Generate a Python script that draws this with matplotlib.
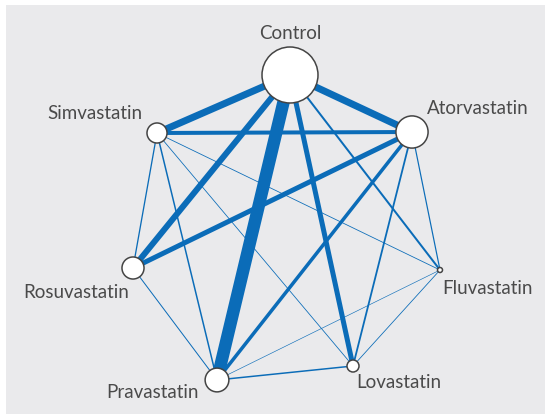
import numpy as np
import matplotlib
matplotlib.use("Agg")
import matplotlib.pyplot as plt
from matplotlib.patches import Circle, Rectangle

# ---- data ----
treatments = ["Control", "Simvastatin", "Atorvastatin", "Rosuvastatin",
              "Fluvastatin", "Lovastatin", "Pravastatin"]
# relative node size (proportional to number of participants)
node_sizes = [100, 12.8, 33, 15.5, 0.8, 4.6, 18]
# comparisons (edges) and their weight (amount of evidence)
edge_from = ["Control", "Control", "Control", "Control", "Control", "Control",
             "Simvastatin", "Atorvastatin", "Atorvastatin", "Atorvastatin", "Atorvastatin",
             "Simvastatin", "Simvastatin", "Simvastatin", "Simvastatin",
             "Rosuvastatin", "Pravastatin", "Pravastatin", "Lovastatin"]
edge_to = ["Pravastatin", "Simvastatin", "Atorvastatin", "Rosuvastatin", "Lovastatin", "Fluvastatin",
           "Atorvastatin", "Rosuvastatin", "Pravastatin", "Lovastatin", "Fluvastatin",
           "Rosuvastatin", "Pravastatin", "Lovastatin", "Fluvastatin",
           "Pravastatin", "Lovastatin", "Fluvastatin", "Fluvastatin"]
edge_weights = [12.5, 7, 7, 6, 5, 2, 4, 5, 3.5, 1.8, 1.2, 1.3, 1.5, 0.8, 0.8, 1.0, 1.5, 0.6, 0.8]

# ---- layout (pixel-like coordinates) ----
pos = {
    "Control": (290, 75),
    "Simvastatin": (157, 133),
    "Atorvastatin": (412, 132),
    "Rosuvastatin": (133, 268),
    "Fluvastatin": (440, 270),
    "Lovastatin": (353, 366),
    "Pravastatin": (217, 380),
}
label_pos = {
    "Control": (290, 33),
    "Simvastatin": (95, 113),
    "Atorvastatin": (478, 108),
    "Rosuvastatin": (76, 293),
    "Fluvastatin": (487, 289),
    "Lovastatin": (399, 383),
    "Pravastatin": (153, 392),
}

W, H = 547, 417
fig = plt.figure(figsize=(W / 100, H / 100), dpi=100)
ax = fig.add_axes([0, 0, 1, 1])
ax.set_xlim(0, W)
ax.set_ylim(H, 0)
ax.axis("off")
fig.patch.set_facecolor("white")

ax.add_patch(Rectangle((6, 5), 539, 409, facecolor="#EAEAEC", edgecolor="none", zorder=0))

edge_color = "#0B6CB8"
px2pt = 72 / 100
for a, b, w in zip(edge_from, edge_to, edge_weights):
    (x1, y1), (x2, y2) = pos[a], pos[b]
    ax.plot([x1, x2], [y1, y2], color=edge_color, lw=w * px2pt,
            solid_capstyle="butt", zorder=1)

for name, s in zip(treatments, node_sizes):
    r = 2.8 * np.sqrt(s)
    ax.add_patch(Circle(pos[name], r, facecolor="white", edgecolor="#444444",
                        lw=1.1, zorder=3))

for name in treatments:
    x, y = label_pos[name]
    ax.text(x, y, name, ha="center", va="center", fontsize=13.5, color="#4A4A4A",
            family="Lato", zorder=4)

fig.savefig("out.png", dpi=100, facecolor="white")
